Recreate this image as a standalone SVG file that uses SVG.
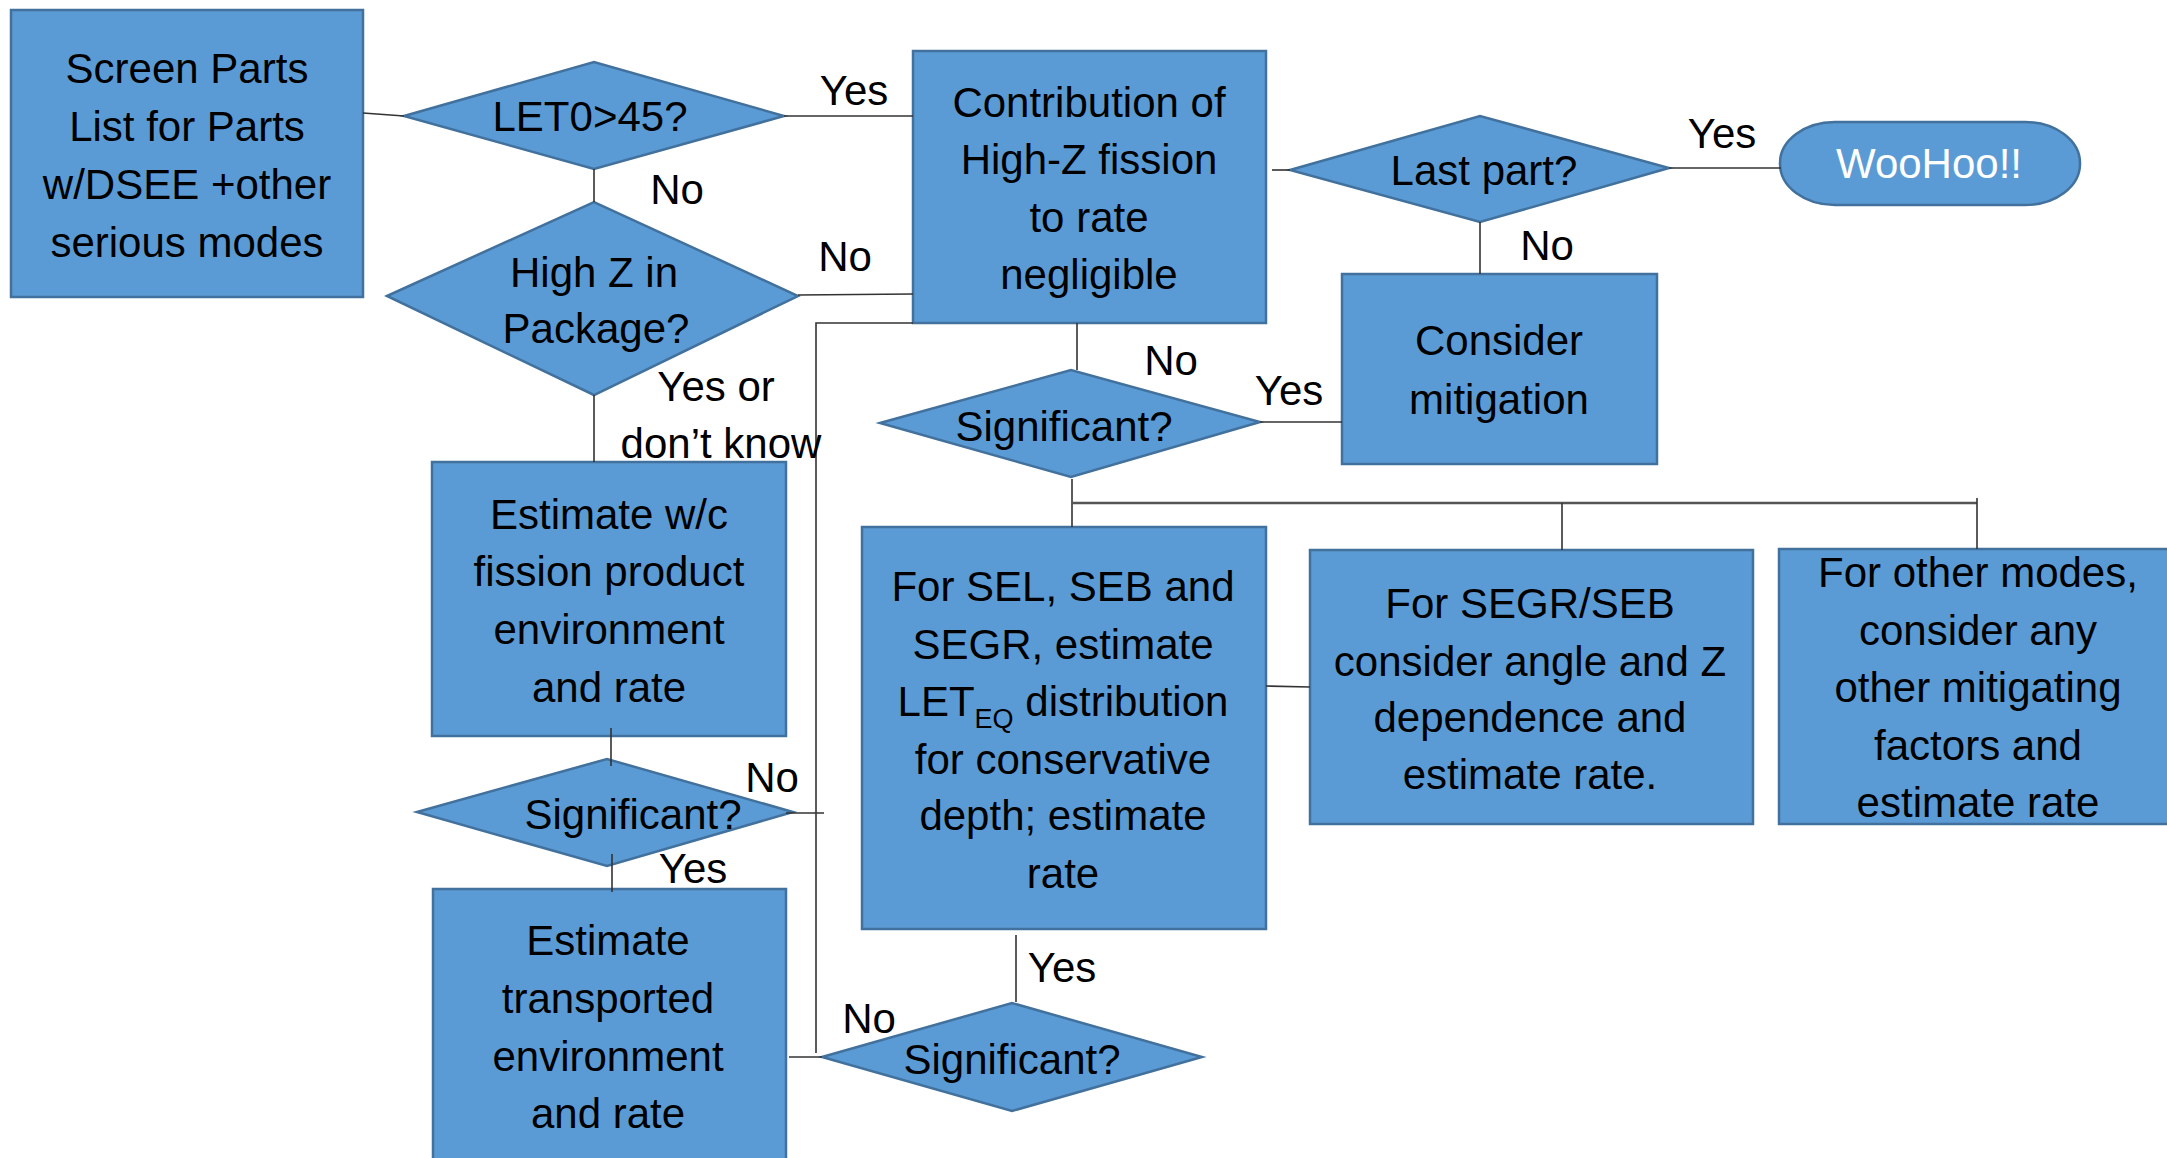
<svg xmlns="http://www.w3.org/2000/svg" width="2167" height="1158" viewBox="0 0 2167 1158">
<style>
.n{fill:#5B9BD5;stroke:#41719C;stroke-width:2.5}
.t{font-family:"Liberation Sans",Arial,sans-serif;font-size:42px;fill:#000;text-anchor:middle}
.w{fill:#fff}
.c{stroke:#333;stroke-width:1.6;fill:none}
.c2{stroke:#555;stroke-width:2.5;fill:none}
.s{font-size:27px}
</style>
<rect width="2167" height="1158" fill="#fff"/>
<g id="n-screen"><rect class="n" x="11" y="10" width="352" height="287"/>
<text class="t" x="187" y="83">Screen Parts</text><text class="t" x="187" y="141">List for Parts</text><text class="t" x="187" y="199">w/DSEE +other</text><text class="t" x="187" y="257">serious modes</text></g>
<g id="n-let0"><polygon class="n" points="404,116 594,62 784,116 594,169"/><text class="t" x="590" y="131">LET0&gt;45?</text></g>
<g id="n-highz"><polygon class="n" points="387,296 594,202 798,296 594,395"/><text class="t" x="594" y="287">High Z in</text><text class="t" x="596" y="343">Package?</text></g>
<g id="n-contrib"><rect class="n" x="913" y="51" width="353" height="272"/>
<text class="t" x="1089" y="117">Contribution of</text><text class="t" x="1089" y="174">High-Z fission</text><text class="t" x="1089" y="232">to rate</text><text class="t" x="1089" y="289">negligible</text></g>
<g id="n-last"><polygon class="n" points="1290,170 1480,116 1669,168 1480,222"/><text class="t" x="1484" y="185">Last part?</text></g>
<g id="n-woohoo"><rect class="n" x="1780" y="122" width="300" height="83" rx="55" ry="41"/><text class="t w" x="1929" y="178">WooHoo!!</text></g>
<g id="n-mitig"><rect class="n" x="1342" y="274" width="315" height="190"/><text class="t" x="1499" y="355">Consider</text><text class="t" x="1499" y="414">mitigation</text></g>
<g id="n-sig1"><polygon class="n" points="880,423 1071,370 1260,422 1071,477"/><text class="t" x="1064" y="441">Significant?</text></g>
<g id="n-sel"><rect class="n" x="862" y="527" width="404" height="402"/>
<text class="t" x="1063" y="601">For SEL, SEB and</text><text class="t" x="1063" y="659">SEGR, estimate</text><text class="t" x="1063" y="716">LET<tspan class="s" dy="12">EQ</tspan><tspan dy="-12"> distribution</tspan></text><text class="t" x="1063" y="774">for conservative</text><text class="t" x="1063" y="830">depth; estimate</text><text class="t" x="1063" y="888">rate</text></g>
<g id="n-segr"><rect class="n" x="1310" y="550" width="443" height="274"/>
<text class="t" x="1530" y="618">For SEGR/SEB</text><text class="t" x="1530" y="676">consider angle and Z</text><text class="t" x="1530" y="732">dependence and</text><text class="t" x="1530" y="789">estimate rate.</text></g>
<g id="n-other"><rect class="n" x="1779" y="549" width="400" height="275"/>
<text class="t" x="1978" y="587">For other modes,</text><text class="t" x="1978" y="645">consider any</text><text class="t" x="1978" y="702">other mitigating</text><text class="t" x="1978" y="760">factors and</text><text class="t" x="1978" y="817">estimate rate</text></g>
<g id="n-estwc"><rect class="n" x="432" y="462" width="354" height="274"/>
<text class="t" x="609" y="529">Estimate w/c</text><text class="t" x="609" y="586">fission product</text><text class="t" x="609" y="644">environment</text><text class="t" x="609" y="702">and rate</text></g>
<g id="n-sig2"><polygon class="n" points="417,812 607,759 793,812 607,866"/><text class="t" x="633" y="829">Significant?</text></g>
<g id="n-esttr"><rect class="n" x="433" y="889" width="353" height="285"/>
<text class="t" x="608" y="955">Estimate</text><text class="t" x="608" y="1013">transported</text><text class="t" x="608" y="1071">environment</text><text class="t" x="608" y="1128">and rate</text></g>
<g id="n-sig3"><polygon class="n" points="822,1057 1012,1003 1202,1057 1012,1111"/><text class="t" x="1012" y="1074">Significant?</text></g>
<g id="connectors">
<path class="c" d="M363,113 L404,116"/>
<path class="c" d="M784,116 L913,116"/>
<path class="c" d="M594,169 L594,202"/>
<path class="c" d="M798,295 L913,294"/>
<path class="c" d="M594,395 L594,462"/>
<path class="c" d="M913,323 L816,323 L816,1053"/>
<path class="c" d="M611,728 L611,766"/>
<path class="c" d="M786,813 L824,813"/>
<path class="c" d="M612,854 L612,892"/>
<path class="c" d="M789,1057 L822,1057"/>
<path class="c" d="M1016,935 L1016,1002"/>
<path class="c" d="M1077,323 L1077,370"/>
<path class="c" d="M1260,422 L1342,422"/>
<path class="c" d="M1072,479 L1072,527"/>
<path class="c2" d="M1072,503 L1977,503"/>
<path class="c" d="M1562,503 L1562,550"/>
<path class="c" d="M1977,498 L1977,549"/>
<path class="c" d="M1266,686 L1310,687"/>
<path class="c" d="M1272,170 L1290,170"/>
<path class="c" d="M1669,168 L1781,168"/>
<path class="c" d="M1480,222 L1480,274"/>
</g>
<g id="labels">
<text class="t" x="854" y="105">Yes</text>
<text class="t" x="677" y="204">No</text>
<text class="t" x="845" y="271">No</text>
<text class="t" x="716" y="401">Yes or</text>
<text class="t" x="721" y="458">don’t know</text>
<text class="t" x="1722" y="148">Yes</text>
<text class="t" x="1547" y="260">No</text>
<text class="t" x="1171" y="375">No</text>
<text class="t" x="1289" y="405">Yes</text>
<text class="t" x="772" y="792">No</text>
<text class="t" x="693" y="883">Yes</text>
<text class="t" x="869" y="1033">No</text>
<text class="t" x="1062" y="982">Yes</text>
</g>
</svg>
